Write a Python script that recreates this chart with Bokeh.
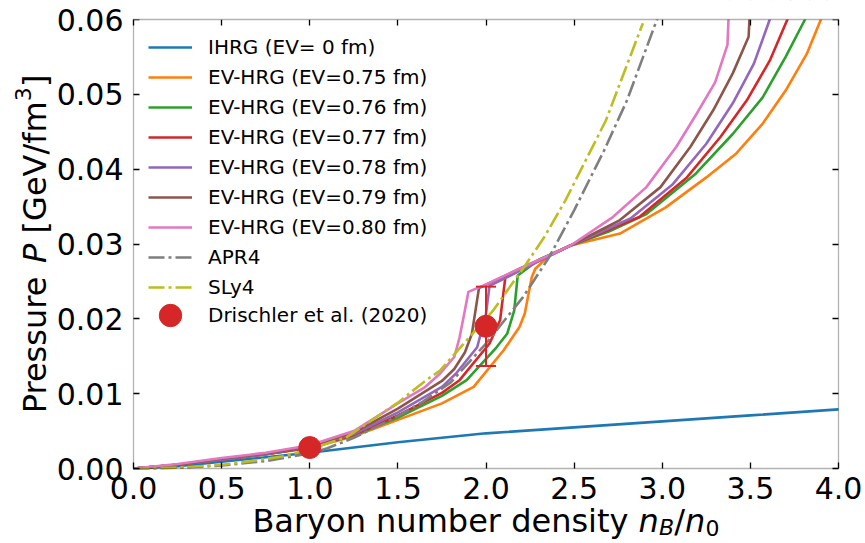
from math import pi

from bokeh.plotting import figure
from bokeh.models import (ColumnDataSource, Legend, LegendItem, LinearAxis, Label, BoxAnnotation,
                          FixedTicker, PrintfTickFormatter, Whisker, TeeHead, Range1d)
from bokeh.embed import file_html
from bokeh.resources import INLINE

# ---- data: pressure P [GeV/fm^3] versus n_B/n_0 ----
ihrg_nb = [0, 0.25, 0.5, 0.75, 1.0, 1.25, 1.5, 1.75, 2.0, 2.5, 3.0, 3.5, 4.0]
ihrg_p = [0, 0.0003, 0.0009, 0.0015, 0.0021, 0.0028, 0.0035, 0.0041, 0.0047, 0.0055, 0.0063, 0.0071, 0.0079]

ev075_nb = [0, 0.25, 0.5, 0.75, 1.0, 1.25, 1.5, 1.75, 1.93, 2.1, 2.19, 2.22, 2.26, 2.28, 2.36, 2.48,
            2.76, 3.02, 3.25, 3.42, 3.57, 3.70, 3.82, 3.90, 3.94]
ev075_p = [0, 0.0005, 0.0012, 0.0019, 0.0027, 0.0043, 0.0065, 0.0087, 0.0109, 0.0158, 0.0189, 0.0207,
           0.0256, 0.0267, 0.0285, 0.0298, 0.0314, 0.0349, 0.0389, 0.0421, 0.0461, 0.0505, 0.0554, 0.0600, 0.0625]

ev076_nb = [0, 0.25, 0.5, 0.75, 1.0, 1.25, 1.5, 1.75, 1.89, 2.06, 2.12, 2.16, 2.18, 2.30, 2.48, 2.70,
            2.91, 3.19, 3.40, 3.57, 3.70, 3.81, 3.84]
ev076_p = [0, 0.0005, 0.0012, 0.0019, 0.0028, 0.0044, 0.0068, 0.0097, 0.0118, 0.0162, 0.0180, 0.0211,
           0.0258, 0.0279, 0.0298, 0.0317, 0.0340, 0.0394, 0.0447, 0.0496, 0.0550, 0.0600, 0.0625]

ev077_nb = [0, 0.25, 0.5, 0.75, 1.0, 1.25, 1.5, 1.75, 1.85, 2.02, 2.08, 2.11, 2.25, 2.48, 2.87, 3.14,
            3.33, 3.48, 3.61, 3.71, 3.73]
ev077_p = [0, 0.0005, 0.0012, 0.0019, 0.0028, 0.0045, 0.0071, 0.0101, 0.0118, 0.0167, 0.0198, 0.0256,
           0.0272, 0.0298, 0.0336, 0.0389, 0.0443, 0.0492, 0.0545, 0.0600, 0.0625]

ev078_nb = [0, 0.25, 0.5, 0.75, 1.0, 1.25, 1.5, 1.75, 1.83, 1.95, 2.0, 2.02, 2.25, 2.48, 2.82, 3.06,
            3.25, 3.40, 3.52, 3.61, 3.62]
ev078_p = [0, 0.0005, 0.0012, 0.0019, 0.0029, 0.0046, 0.0075, 0.0109, 0.0127, 0.0162, 0.0207, 0.0244,
           0.0271, 0.0298, 0.0334, 0.0380, 0.0434, 0.0488, 0.0541, 0.0600, 0.0625]

ev079_nb = [0, 0.25, 0.5, 0.75, 1.0, 1.25, 1.5, 1.75, 1.82, 1.88, 1.92, 1.96, 2.2, 2.48, 2.76, 2.99,
            3.16, 3.29, 3.40, 3.49, 3.50]
ev079_p = [0, 0.0005, 0.0013, 0.0020, 0.0029, 0.0048, 0.0080, 0.0117, 0.0133, 0.0155, 0.0180, 0.0241,
           0.0268, 0.0298, 0.0332, 0.0376, 0.0430, 0.0479, 0.0528, 0.0577, 0.0625]

ev080_nb = [0, 0.25, 0.5, 0.75, 1.0, 1.25, 1.5, 1.65, 1.74, 1.82, 1.85, 1.88, 1.90, 1.99, 2.2, 2.48,
            2.72, 2.91, 3.08, 3.19, 3.30, 3.37, 3.38]
ev080_p = [0, 0.0006, 0.0014, 0.0021, 0.0031, 0.0050, 0.0087, 0.0108, 0.0127, 0.0149, 0.0175, 0.0211,
           0.0236, 0.0245, 0.0268, 0.0298, 0.0336, 0.0376, 0.0430, 0.0472, 0.0516, 0.0566, 0.0625]

apr4_nb = [0, 0.25, 0.5, 0.75, 1.0, 1.1, 1.25, 1.5, 1.64, 1.8, 2.0, 2.21, 2.36, 2.5, 2.67, 2.8, 2.97, 3.0]
apr4_p = [0, 0.0001, 0.0004, 0.0010, 0.0020, 0.0027, 0.0041, 0.0070, 0.0089, 0.0115, 0.0167, 0.0229,
          0.0283, 0.0345, 0.0425, 0.0492, 0.0600, 0.0620]

sly4_nb = [0, 0.25, 0.32, 0.55, 0.7, 0.87, 1.0, 1.21, 1.5, 1.66, 1.74, 2.04, 2.23, 2.33, 2.45, 2.68, 2.89]
sly4_p = [0, 0.0001, 0.0002, 0.0006, 0.0011, 0.0017, 0.0026, 0.0042, 0.0088, 0.0118, 0.0131, 0.0211,
          0.0274, 0.0309, 0.0358, 0.0465, 0.0595]

drischler_nb = [1.0, 2.0]
drischler_p = [0.0028, 0.019]
drischler_err = [0.0001, 0.0053]

x_ticks = [0.0, 0.5, 1.0, 1.5, 2.0, 2.5, 3.0, 3.5, 4.0]
y_ticks = [0.0, 0.01, 0.02, 0.03, 0.04, 0.05, 0.06]
X_MIN, X_MAX = 0.0, 4.0
Y_MIN, Y_MAX = 0.0, 0.06

# ---- page layout (pixels): the whole canvas is the plotting frame; the axes box sits inside ----
W, H = 865, 543
BOX_L, BOX_R, BOX_T, BOX_B = 133, 838, 19, 468
xpp = (X_MAX - X_MIN) / (BOX_R - BOX_L)
ypp = (Y_MAX - Y_MIN) / (BOX_B - BOX_T)
x_range = Range1d(X_MIN - BOX_L * xpp, X_MAX + (W - BOX_R) * xpp)
y_range = Range1d(Y_MIN - (H - BOX_B) * ypp, Y_MAX + BOX_T * ypp)

FONT = "DejaVu Sans"
TICK_FS = "30px"
LABEL_FS = 32

p = figure(width=W, height=H, output_backend="svg", toolbar_location=None,
           x_range=x_range, y_range=y_range, x_axis_location=None, y_axis_location=None,
           min_border=0, min_border_left=0, min_border_right=0, min_border_top=0, min_border_bottom=0,
           background_fill_color="white", border_fill_color="white", outline_line_color=None)
p.grid.visible = False


def make_axis(ticks, fmt, loc, bounds, show_labels, standoff):
    ax = LinearAxis(fixed_location=loc, bounds=bounds)
    ax.ticker = FixedTicker(ticks=ticks)
    ax.formatter = PrintfTickFormatter(format=fmt)
    ax.major_tick_in = 6
    ax.major_tick_out = 0
    ax.minor_tick_line_color = None
    ax.major_tick_line_width = 1.3
    ax.major_tick_line_color = "black"
    ax.axis_line_color = None
    ax.major_label_text_font = FONT
    ax.major_label_standoff = standoff
    ax.major_label_text_font_size = TICK_FS
    ax.major_label_text_color = "black" if show_labels else None
    return ax


p.add_layout(make_axis(x_ticks, "%.1f", Y_MIN, (X_MIN, X_MAX), True, 8), "below")
p.add_layout(make_axis(y_ticks, "%.2f", X_MIN, (Y_MIN, Y_MAX), True, 10), "left")
p.add_layout(make_axis(x_ticks, "%.1f", Y_MAX, (X_MIN, X_MAX), False, 0), "above")
p.add_layout(make_axis(y_ticks, "%.2f", X_MAX, (Y_MIN, Y_MAX), False, 0), "right")

LW = 2.6
series = [
    ("IHRG (EV= 0 fm)", ihrg_nb, ihrg_p, "#1f77b4", "solid"),
    ("EV-HRG (EV=0.75 fm)", ev075_nb, ev075_p, "#ff7f0e", "solid"),
    ("EV-HRG (EV=0.76 fm)", ev076_nb, ev076_p, "#2ca02c", "solid"),
    ("EV-HRG (EV=0.77 fm)", ev077_nb, ev077_p, "#d62728", "solid"),
    ("EV-HRG (EV=0.78 fm)", ev078_nb, ev078_p, "#9467bd", "solid"),
    ("EV-HRG (EV=0.79 fm)", ev079_nb, ev079_p, "#8c564b", "solid"),
    ("EV-HRG (EV=0.80 fm)", ev080_nb, ev080_p, "#e377c2", "solid"),
    ("APR4", apr4_nb, apr4_p, "#7f7f7f", "16 4 3 4"),
    ("SLy4", sly4_nb, sly4_p, "#bcbd22", "16 4 3 4"),
]

items = []
for name, xs, ys, color, dash in series:
    r = p.line(xs, ys, line_color=color, line_width=LW, line_dash=dash, line_join="round")
    items.append(LegendItem(label=name, renderers=[r]))

# Drischler et al. (2020) points with error bars
lower = [v - e for v, e in zip(drischler_p, drischler_err)]
upper = [v + e for v, e in zip(drischler_p, drischler_err)]
dsrc = ColumnDataSource(data=dict(x=drischler_nb, y=drischler_p, lower=lower, upper=upper))
RED = "#d62728"
whisk = Whisker(source=dsrc, base="x", lower="lower", upper="upper", dimension="height",
                line_color=RED, line_width=2, level="glyph",
                upper_head=TeeHead(size=20, line_color=RED, line_width=2),
                lower_head=TeeHead(size=20, line_color=RED, line_width=2))
p.add_layout(whisk)
pts = p.scatter("x", "y", source=dsrc, size=22, fill_color=RED, line_color=RED)

# curves that run past the top of the axes box are masked above it
p.add_layout(BoxAnnotation(left=X_MIN, right=X_MAX, bottom=Y_MAX, top=y_range.end + 0.01,
                           fill_color="white", fill_alpha=1.0, line_color=None))
# axes box
p.add_layout(BoxAnnotation(left=X_MIN, right=X_MAX, bottom=Y_MIN, top=Y_MAX,
                           fill_color=None, fill_alpha=0, line_color="black", line_width=1.3,
                           level="overlay"))

legend = Legend(items=items, location=(148, 244), margin=0, padding=0,
                glyph_width=44, glyph_height=24, label_height=24, spacing=6,
                label_standoff=16, label_text_font=FONT, label_text_font_size="20px",
                label_text_color="black", background_fill_alpha=0, border_line_color=None)
p.add_layout(legend)

legend_pts = Legend(items=[LegendItem(label="Drischler et al. (2020)", renderers=[pts])],
                    location=(142, 200), margin=0, padding=0,
                    glyph_width=56, glyph_height=56, label_height=56, spacing=0,
                    label_standoff=10, label_text_font=FONT, label_text_font_size="20px",
                    label_text_color="black", background_fill_alpha=0, border_line_color=None)
p.add_layout(legend_pts)

# ---- axis titles assembled from pieces (italic symbols, sub/superscripts) ----
SUB = round(LABEL_FS * 0.7)


def piece(text, x, y, size=LABEL_FS, style="normal", angle=0.0):
    p.add_layout(Label(x=x, y=y, x_units="screen", y_units="screen", text=text,
                       text_font=FONT, text_font_size=f"{size}px", text_font_style=style,
                       text_color="black", text_align="left", text_baseline="alphabetic",
                       angle=angle))


# x: "Baryon number density n_B/n_0"
xb = 23
piece("Baryon number density", 251.9, xb)
piece("n", 638.1, xb, style="italic")
piece("B", 658.4, xb - 7, size=SUB, style="italic")
piece("/", 673.8, xb)
piece("n", 684.6, xb, style="italic")
piece("0", 704.9, xb - 7, size=SUB)

# y: "Pressure P [GeV/fm^3]" (rotated)
yb = 34
piece("Pressure", yb, 130.2, angle=pi / 2)
piece("P", yb, 280.6, style="italic", angle=pi / 2)
piece("[GeV/fm", yb, 310.1, angle=pi / 2)
piece("3", yb - 12, 442.2, size=SUB, angle=pi / 2)
piece("]", yb, 456.4, angle=pi / 2)

open("out.html", "w").write(file_html(p, INLINE))
